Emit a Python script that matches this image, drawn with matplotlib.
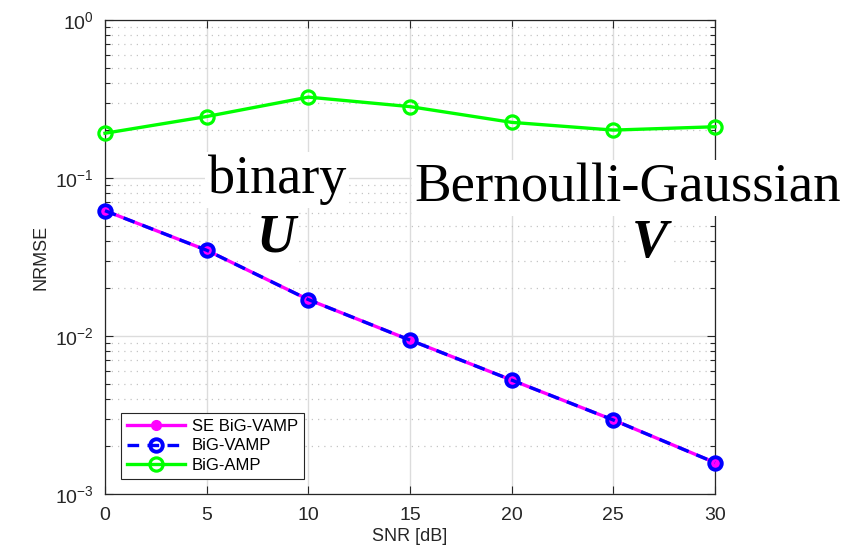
#!/usr/bin/env python3
"""NRMSE vs SNR for SE BiG-VAMP, BiG-VAMP and BiG-AMP (binary U, Bernoulli-Gaussian V)."""

import matplotlib
matplotlib.use("Agg")
import matplotlib.pyplot as plt
from matplotlib.ticker import LogLocator, NullFormatter

snr_db = [0, 5, 10, 15, 20, 25, 30]
se_bigvamp = [0.0621, 0.0349, 0.0170, 0.00942, 0.00526, 0.00294, 0.00158]
bigvamp = [0.0621, 0.0349, 0.0170, 0.00942, 0.00526, 0.00294, 0.00158]
bigamp = [0.192, 0.245, 0.325, 0.283, 0.225, 0.201, 0.211]

plt.rcParams["font.family"] = ["Liberation Sans", "DejaVu Sans"]
plt.rcParams["mathtext.fontset"] = "custom"
plt.rcParams["mathtext.rm"] = "Liberation Sans"
plt.rcParams["mathtext.it"] = "Liberation Sans:italic"

W, H = 846, 553
fig = plt.figure(figsize=(W / 100, H / 100), dpi=100)
ax = fig.add_axes([105 / W, 1 - 494 / H, 610 / W, 474 / H])

ax.plot(snr_db, se_bigvamp, color="#ff00ff", linewidth=2.4, marker="o",
        markersize=7, markerfacecolor="#ff00ff", markeredgecolor="#ff00ff",
        label="SE BiG-VAMP", zorder=3, clip_on=False)
ax.plot(snr_db, bigvamp, color="#0000ff", linewidth=2.4, linestyle=(0, (3.5, 2.5)),
        marker="o", markersize=9, markerfacecolor="none", markeredgecolor="#0000ff",
        markeredgewidth=2.8, label="BiG-VAMP", zorder=4, clip_on=False)
ax.plot(snr_db, bigamp, color="#00ff00", linewidth=2.4, marker="o", markersize=9.5,
        markerfacecolor="none", markeredgecolor="#00ff00", markeredgewidth=2.3,
        label="BiG-AMP", zorder=3, clip_on=False)

ax.set_yscale("log")
ax.set_xlim(0, 30)
ax.set_ylim(1e-3, 1e0)
ax.set_xticks(snr_db)
ax.yaxis.set_major_locator(LogLocator(base=10, numticks=10))
ax.yaxis.set_minor_locator(LogLocator(base=10, subs=range(2, 10), numticks=20))
ax.yaxis.set_minor_formatter(NullFormatter())

ax.grid(True, which="major", color="#dcdcdc", linewidth=1.0, linestyle="-")
ax.grid(True, which="minor", axis="y", color="#c4c4c4", linewidth=0.9,
        linestyle=(0, (1, 4)))
ax.set_axisbelow(True)

ax.tick_params(which="both", direction="in", top=True, right=True,
               labelsize=14, colors="#262626")
ax.tick_params(axis="x", pad=9)
ax.tick_params(axis="y", pad=8)
ax.tick_params(which="major", length=6, width=0.8)
ax.tick_params(which="minor", length=3.5, width=0.8)
for s in ax.spines.values():
    s.set_color("#262626")
    s.set_linewidth(0.9)

ax.set_xlabel("SNR [dB]", fontsize=13, color="#262626", labelpad=3)
ax.set_ylabel("NRMSE", fontsize=13, color="#262626", labelpad=4)

leg = ax.legend(loc="lower left", bbox_to_anchor=(16 / 610, 15 / 474),
                borderaxespad=0, fontsize=12, handlelength=3.5, borderpad=0.35,
                labelspacing=0.28, handletextpad=0.4, fancybox=False,
                framealpha=1, edgecolor="#262626")
leg.get_frame().set_linewidth(0.8)

# Big annotation labels with white boxes over the grid
serif = ["Liberation Serif", "DejaVu Serif"]
box = dict(facecolor="white", edgecolor="none", pad=2)
fig.text(277 / W, 1 - 193 / H, "binary", fontsize=39, family=serif,
         ha="center", va="baseline", bbox=box, zorder=10)
fig.text(276 / W, 1 - 252 / H, "U", fontsize=39, family=serif, weight="bold",
         style="italic", ha="center", va="baseline", bbox=box, zorder=10)
fig.text(628 / W, 1 - 201 / H, "Bernoulli-Gaussian", fontsize=39.5, family=serif,
         ha="center", va="baseline", bbox=box, zorder=10)
fig.text(650 / W, 1 - 257 / H, "V", fontsize=39, family=serif, weight="bold",
         style="italic", ha="center", va="baseline", bbox=box, zorder=10)

fig.savefig("out.png", dpi=100, facecolor="white")
